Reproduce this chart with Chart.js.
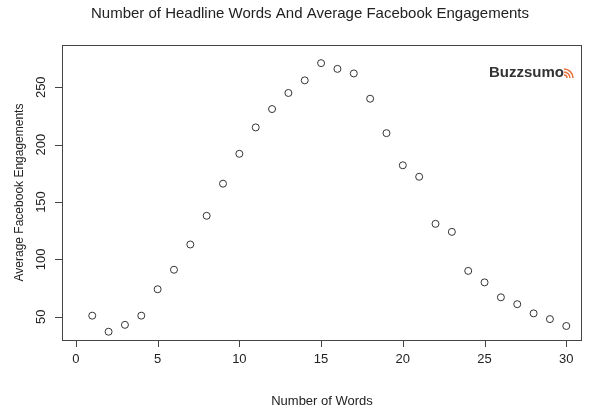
<!DOCTYPE html>
<html><head><script src="https://cdn.jsdelivr.net/npm/chart.js"></script>
<style>body{margin:0;background:#fff}</style></head><body>
<div style="width:600px;height:420px"><canvas id="c"></canvas></div>
<script>
const words=[1,2,3,4,5,6,7,8,9,10,11,12,13,14,15,16,17,18,19,20,21,22,23,24,25,26,27,28,29,30];
const engagements=[51,37,43,51,74,91,113,138,166,192,215,231,245,256,271,266,262,240,210,182,172,131,124,90,80,67,61,53,48,42];
const xTicks=[0,5,10,15,20,25,30];
const yTicks=[50,100,150,200,250];
const F='"Liberation Sans", Arial, sans-serif';
const deco={id:'deco',afterDraw(ch){
  const c=ch.ctx,a=ch.chartArea,y=ch.scales.y,x=ch.scales.x;
  c.save();c.strokeStyle='#444';c.lineWidth=1;
  c.strokeRect(a.left+.5,a.top+.5,a.right-a.left,a.bottom-a.top);
  c.beginPath();
  xTicks.forEach(v=>{const p=Math.round(x.getPixelForValue(v))+.5;c.moveTo(p,a.bottom);c.lineTo(p,a.bottom+7);});
  yTicks.forEach(v=>{const p=Math.round(y.getPixelForValue(v))+.5;c.moveTo(a.left,p);c.lineTo(a.left-7,p);});
  c.stroke();
  c.fillStyle='#222';c.font='13px '+F;c.textAlign='center';c.textBaseline='top';
  xTicks.forEach(v=>c.fillText(String(v),x.getPixelForValue(v),a.bottom+13));
  yTicks.forEach(v=>{c.save();c.translate(a.left-14,y.getPixelForValue(v));c.rotate(-Math.PI/2);c.textBaseline='bottom';c.fillText(String(v),0,0);c.restore();});
  c.font='15px '+F;c.textBaseline='middle';
  c.fillText('Number of Headline Words And Average Facebook Engagements',310,14);
  c.font='13px '+F;
  c.fillText('Number of Words',322,401);
  c.save();c.translate(20,(a.top+a.bottom)/2);c.rotate(-Math.PI/2);c.font='12px '+F;c.fillText('Average Facebook Engagements',0,0);c.restore();
  c.font='bold 15px '+F;c.fillStyle='#333';c.textAlign='left';c.fillText('Buzzsumo',489,73);
  c.strokeStyle='#e8743b';c.lineWidth=1.5;
  for(let r=3;r<=9;r+=3){c.beginPath();c.arc(564,78,r,-Math.PI/2,0);c.stroke();}
  c.restore();
}};
new Chart(document.getElementById('c'),{type:'scatter',
 data:{datasets:[{data:words.map((w,i)=>({x:w,y:engagements[i]})),pointRadius:3.5,pointBorderColor:'#333',pointBackgroundColor:'rgba(0,0,0,0)',pointBorderWidth:1}]},
 options:{responsive:true,maintainAspectRatio:false,animation:false,
  layout:{padding:{top:45,right:19,left:0,bottom:0}},
  plugins:{legend:{display:false},tooltip:{enabled:false}},
  scales:{
   x:{type:'linear',min:-0.85,max:30.9,ticks:{display:false},grid:{display:false},border:{display:false},afterFit(s){s.height=80;}},
   y:{type:'linear',min:29.8,max:286.8,ticks:{display:false},grid:{display:false},border:{display:false},afterFit(s){s.width=62;}}
  }},plugins:[deco]});
</script></body></html>
